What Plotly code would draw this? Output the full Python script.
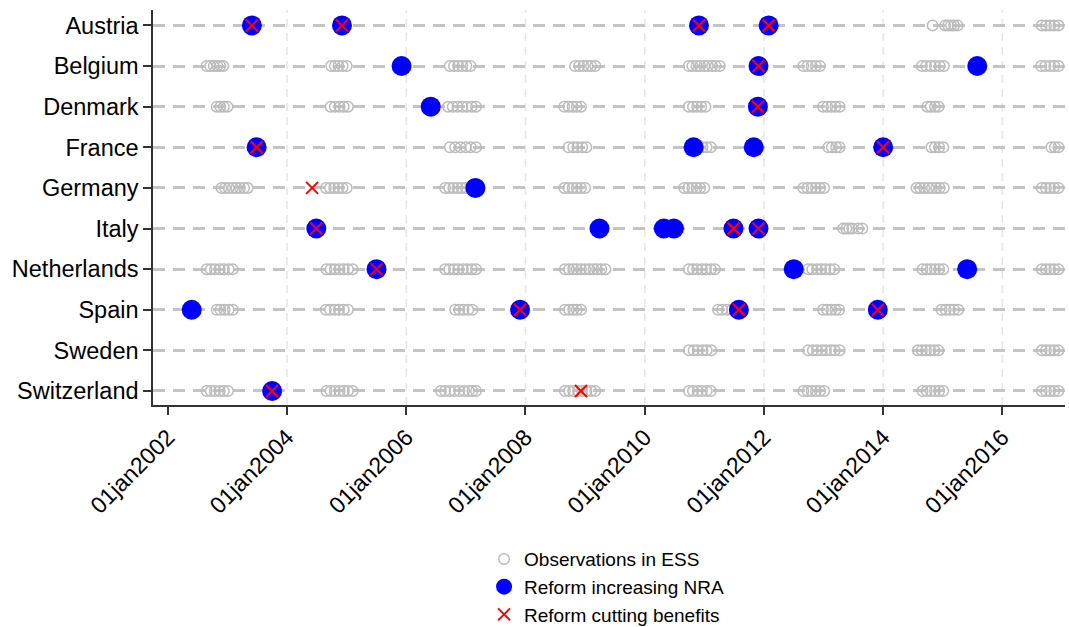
import datetime as dt
import plotly.graph_objects as go

countries = ["Austria", "Belgium", "Denmark", "France", "Germany", "Italy",
             "Netherlands", "Spain", "Sweden", "Switzerland"]

# ESS fieldwork observations (decimal years)
ess_obs = {
    "Austria": [2014.83, 2015.04, 2015.09, 2015.14, 2015.19, 2015.25,
                2016.66, 2016.73, 2016.80, 2016.87, 2016.94],
    "Belgium": [2002.65, 2002.71, 2002.77, 2002.83, 2002.88, 2002.93,
                2004.74, 2004.80, 2004.86, 2004.93, 2005.00,
                2006.73, 2006.80, 2006.87, 2006.94, 2007.01, 2007.08,
                2008.83, 2008.90, 2008.97, 2009.04, 2009.10, 2009.17,
                2010.74, 2010.80, 2010.87, 2010.93, 2011.00, 2011.06, 2011.13, 2011.19, 2011.26,
                2012.66, 2012.73, 2012.80, 2012.87, 2012.94,
                2014.65, 2014.72, 2014.80, 2014.87, 2014.95, 2015.02,
                2016.65, 2016.72, 2016.80, 2016.87, 2016.94],
    "Denmark": [2002.82, 2002.88, 2002.94, 2003.00,
                2004.73, 2004.80, 2004.88, 2004.95, 2005.02,
                2006.70, 2006.78, 2006.86, 2006.94, 2007.02, 2007.10, 2007.17,
                2008.65, 2008.72, 2008.79, 2008.86, 2008.93,
                2010.74, 2010.81, 2010.88, 2010.95, 2011.02,
                2012.99, 2013.06, 2013.13, 2013.20, 2013.27,
                2014.74, 2014.80, 2014.87, 2014.93],
    "France": [2006.73, 2006.82, 2006.91, 2007.00, 2007.08, 2007.17,
               2008.72, 2008.80, 2008.87, 2008.95, 2009.02,
               2010.82, 2010.90, 2010.97, 2011.04, 2011.11,
               2013.08, 2013.14, 2013.21, 2013.27,
               2014.81, 2014.87, 2014.94, 2015.01,
               2016.82, 2016.88, 2016.94],
    "Germany": [2002.90, 2002.96, 2003.02, 2003.09, 2003.15, 2003.21, 2003.28, 2003.34,
                2004.65, 2004.72, 2004.79, 2004.86, 2004.93, 2005.00,
                2006.65, 2006.72, 2006.79, 2006.86, 2006.93, 2007.00, 2007.07,
                2008.65, 2008.72, 2008.79, 2008.86, 2008.93, 2009.00,
                2010.66, 2010.73, 2010.80, 2010.87, 2010.93, 2011.00,
                2012.66, 2012.73, 2012.80, 2012.87, 2012.94, 2013.01,
                2014.56, 2014.62, 2014.69, 2014.76, 2014.82, 2014.89, 2014.95, 2015.02,
                2016.66, 2016.73, 2016.80, 2016.87, 2016.94],
    "Italy": [2013.33, 2013.38, 2013.43, 2013.48, 2013.58, 2013.65],
    "Netherlands": [2002.65, 2002.72, 2002.79, 2002.87, 2002.94, 2003.02, 2003.09,
                    2004.66, 2004.73, 2004.80, 2004.88, 2004.95, 2005.02, 2005.10,
                    2006.65, 2006.72, 2006.80, 2006.87, 2006.95, 2007.02, 2007.10, 2007.17,
                    2008.66, 2008.73, 2008.80, 2008.86, 2008.93, 2009.00, 2009.07, 2009.14,
                    2009.20, 2009.27, 2009.34,
                    2010.74, 2010.81, 2010.88, 2010.96, 2011.03, 2011.11, 2011.18,
                    2012.74, 2012.81, 2012.89, 2012.96, 2013.03, 2013.11, 2013.18,
                    2014.66, 2014.73, 2014.80, 2014.87, 2014.94, 2015.01,
                    2016.66, 2016.73, 2016.80, 2016.87, 2016.94],
    "Spain": [2002.82, 2002.88, 2002.95, 2003.02, 2003.09,
              2004.65, 2004.72, 2004.80, 2004.87, 2004.95, 2005.02,
              2006.82, 2006.89, 2006.96, 2007.04, 2007.11,
              2008.66, 2008.73, 2008.80, 2008.86, 2008.93,
              2011.23, 2011.30, 2011.38, 2011.46,
              2012.99, 2013.06, 2013.13, 2013.20, 2013.26,
              2014.98, 2015.05, 2015.12, 2015.19, 2015.26],
    "Sweden": [2010.74, 2010.82, 2010.89, 2010.97, 2011.04, 2011.12,
               2012.74, 2012.82, 2012.89, 2012.97, 2013.04, 2013.12, 2013.19, 2013.27,
               2014.58, 2014.65, 2014.72, 2014.79, 2014.86, 2014.93,
               2016.66, 2016.73, 2016.80, 2016.87, 2016.94],
    "Switzerland": [2002.65, 2002.72, 2002.79, 2002.87, 2002.94, 2003.01,
                    2004.66, 2004.73, 2004.80, 2004.88, 2004.95, 2005.02, 2005.10,
                    2006.58, 2006.65, 2006.73, 2006.81, 2006.89, 2006.97, 2007.05, 2007.11, 2007.17,
                    2008.66, 2008.73, 2008.80, 2008.88, 2008.95, 2009.02, 2009.10, 2009.17,
                    2010.74, 2010.81, 2010.89, 2010.96, 2011.04, 2011.11,
                    2012.66, 2012.73, 2012.80, 2012.87, 2012.94, 2013.01,
                    2014.66, 2014.73, 2014.80, 2014.87, 2014.94, 2015.01,
                    2016.66, 2016.73, 2016.80, 2016.87, 2016.94],
}

reform_nra = {
    "Austria": [2003.41, 2004.92, 2010.91, 2012.08],
    "Belgium": [2005.92, 2011.91, 2015.58],
    "Denmark": [2006.41, 2011.90],
    "France": [2003.49, 2010.82, 2011.83, 2014.00],
    "Germany": [2007.16],
    "Italy": [2004.49, 2009.24, 2010.32, 2010.49, 2011.49, 2011.91],
    "Netherlands": [2005.50, 2012.50, 2015.41],
    "Spain": [2002.40, 2007.91, 2011.58, 2013.91],
    "Sweden": [],
    "Switzerland": [2003.75],
}

reform_cut = {
    "Austria": [2003.41, 2004.92, 2010.91, 2012.08],
    "Belgium": [2011.91],
    "Denmark": [2011.90],
    "France": [2003.49, 2014.00],
    "Germany": [2004.42],
    "Italy": [2004.49, 2011.49, 2011.91],
    "Netherlands": [2005.50],
    "Spain": [2007.91, 2011.58, 2013.91],
    "Sweden": [],
    "Switzerland": [2003.75, 2008.93],
}

tick_years = [2002, 2004, 2006, 2008, 2010, 2012, 2014, 2016]
tick_labels = ["01jan2002", "01jan2004", "01jan2006", "01jan2008",
               "01jan2010", "01jan2012", "01jan2014", "01jan2016"]
x_range_years = [2001.75, 2017.05]


def to_date(y):
    yr = int(y)
    start = dt.datetime(yr, 1, 1)
    end = dt.datetime(yr + 1, 1, 1)
    return start + (end - start) * (y - yr)


def flatten(d):
    xs, ys = [], []
    for c in countries:
        for v in d[c]:
            xs.append(to_date(v))
            ys.append(c)
    return xs, ys


FONT = "Liberation Sans, Arial, sans-serif"
fig = go.Figure()

x, y = flatten(ess_obs)
fig.add_trace(go.Scatter(
    x=x, y=y, mode="markers", name="Observations in ESS",
    marker=dict(symbol="circle-open", size=10.5, color="#bcbcbc",
                line=dict(width=1.5, color="#bcbcbc")),
))
x, y = flatten(reform_nra)
fig.add_trace(go.Scatter(
    x=x, y=y, mode="markers", name="Reform increasing NRA",
    marker=dict(symbol="circle", size=20, color="#0000ff",
                line=dict(width=0)),
))
x, y = flatten(reform_cut)
fig.add_trace(go.Scatter(
    x=x, y=y, mode="markers", name="Reform cutting benefits",
    marker=dict(symbol="x-thin", size=12, color="#ff0000",
                line=dict(width=2, color="#ff0000")),
))

# vertical light dashed grid lines at the ticks (none at the first tick, as in the original)
for ty in tick_years[1:]:
    fig.add_shape(type="line", xref="x", yref="paper",
                  x0=to_date(ty), x1=to_date(ty), y0=0, y1=1,
                  line=dict(color="#e6e6e6", width=1.5, dash="8px,6px"),
                  layer="below")

fig.update_layout(
    width=1069, height=627,
    margin=dict(l=153, r=4, t=10, b=222, autoexpand=False),
    paper_bgcolor="white", plot_bgcolor="white",
    font=dict(family=FONT, color="#000000"),
    showlegend=True,
    legend=dict(
        x=0.363, xanchor="left", y=-0.342, yanchor="top",
        orientation="v", font=dict(size=19, family=FONT, color="#000000"),
        bgcolor="rgba(0,0,0,0)", tracegroupgap=0,
    ),
    xaxis=dict(
        type="date",
        range=[to_date(x_range_years[0]), to_date(x_range_years[1])],
        tickvals=[to_date(t) for t in tick_years],
        ticktext=tick_labels,
        tickangle=-45,
        tickfont=dict(size=23, family=FONT, color="#000000"),
        ticks="outside", ticklen=8, tickwidth=1.5, tickcolor="#333333",
        showline=True, linecolor="#333333", linewidth=1.5,
        showgrid=False, zeroline=False, automargin=False,
    ),
    yaxis=dict(
        type="category",
        categoryorder="array",
        categoryarray=countries[::-1],
        range=[-0.345, 9.38],
        tickfont=dict(size=23.5, family=FONT, color="#000000"),
        ticks="outside", ticklen=8, tickwidth=1.5, tickcolor="#333333",
        showline=True, linecolor="#333333", linewidth=1.5,
        showgrid=True, gridcolor="#c4c4c4", gridwidth=2.5, griddash="12px,8px",
        zeroline=False, automargin=False,
    ),
)

fig.write_html(
    "out.html",
    config={"displayModeBar": False},
    post_script="document.body.style.margin='0';document.body.style.padding='0';"
                "document.body.style.overflow='hidden';"
                "document.documentElement.style.overflow='hidden';",
)
